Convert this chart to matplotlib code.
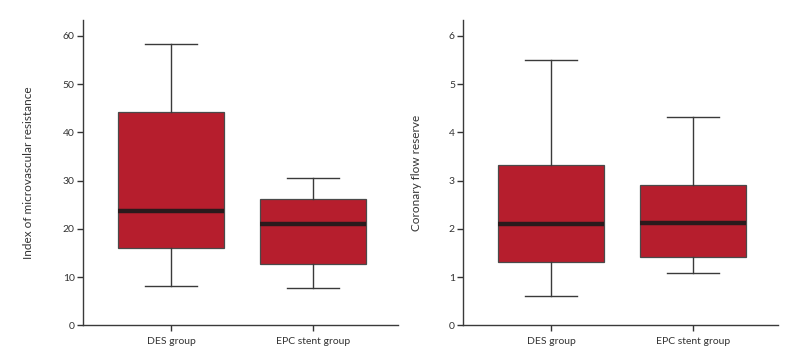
import matplotlib
matplotlib.use('Agg')
import matplotlib.pyplot as plt

groups = ['DES group', 'EPC stent group']

# index of microvascular resistance: whisker low, q1, median, q3, whisker high
imr_low = [8.1, 7.7]
imr_q1 = [16.1, 12.7]
imr_med = [23.8, 21.0]
imr_q3 = [44.3, 26.2]
imr_high = [58.4, 30.6]

# coronary flow reserve
cfr_low = [0.61, 1.09]
cfr_q1 = [1.31, 1.41]
cfr_med = [2.10, 2.13]
cfr_q3 = [3.33, 2.91]
cfr_high = [5.50, 4.31]

plt.rcParams['font.family'] = ['Lato', 'DejaVu Sans']

red = '#b61e2d'
dark = '#2a1a1c'
line = '#3a3a3a'


def make_stats(low, q1, med, q3, high):
    out = []
    for i in range(len(groups)):
        out.append({'whislo': low[i], 'q1': q1[i], 'med': med[i], 'q3': q3[i],
                    'whishi': high[i], 'fliers': [], 'label': groups[i]})
    return out


def draw(ax, stats, ylabel, ymax, yticks, labx):
    ax.bxp(stats, positions=[1, 2], widths=0.75, patch_artist=True, showfliers=False,
           boxprops=dict(facecolor=red, edgecolor='#4a4a4a', linewidth=0.9),
           medianprops=dict(color=dark, linewidth=3.2, solid_capstyle='butt'),
           whiskerprops=dict(color=line, linewidth=1.0),
           capprops=dict(color=line, linewidth=1.0),
           capwidths=0.37)
    ax.set_xlim(0.38, 2.6)
    ax.set_ylim(0, ymax)
    ax.set_yticks(yticks)
    ax.set_ylabel(ylabel, fontsize=8.5, color='#333333')
    ax.yaxis.set_label_coords(labx, 0.5)
    for s in ['top', 'right']:
        ax.spines[s].set_visible(False)
    for s in ['left', 'bottom']:
        ax.spines[s].set_color(line)
        ax.spines[s].set_linewidth(1.0)
    ax.tick_params(axis='both', labelsize=7.5, colors='#333333', length=4, width=1.0,
                   direction='out', pad=2)
    ax.tick_params(axis='x', pad=4)


fig = plt.figure(figsize=(7.96, 3.64), dpi=100)
ax1 = fig.add_axes([0.1043, 0.106, 0.396, 0.839])
ax2 = fig.add_axes([0.582, 0.106, 0.395, 0.839])

draw(ax1, make_stats(imr_low, imr_q1, imr_med, imr_q3, imr_high),
     'Index of microvascular resistance', 63.3, [0, 10, 20, 30, 40, 50, 60], -0.155)
draw(ax2, make_stats(cfr_low, cfr_q1, cfr_med, cfr_q3, cfr_high),
     'Coronary flow reserve', 6.33, [0, 1, 2, 3, 4, 5, 6], -0.13)

fig.savefig('out.png', dpi=100)
